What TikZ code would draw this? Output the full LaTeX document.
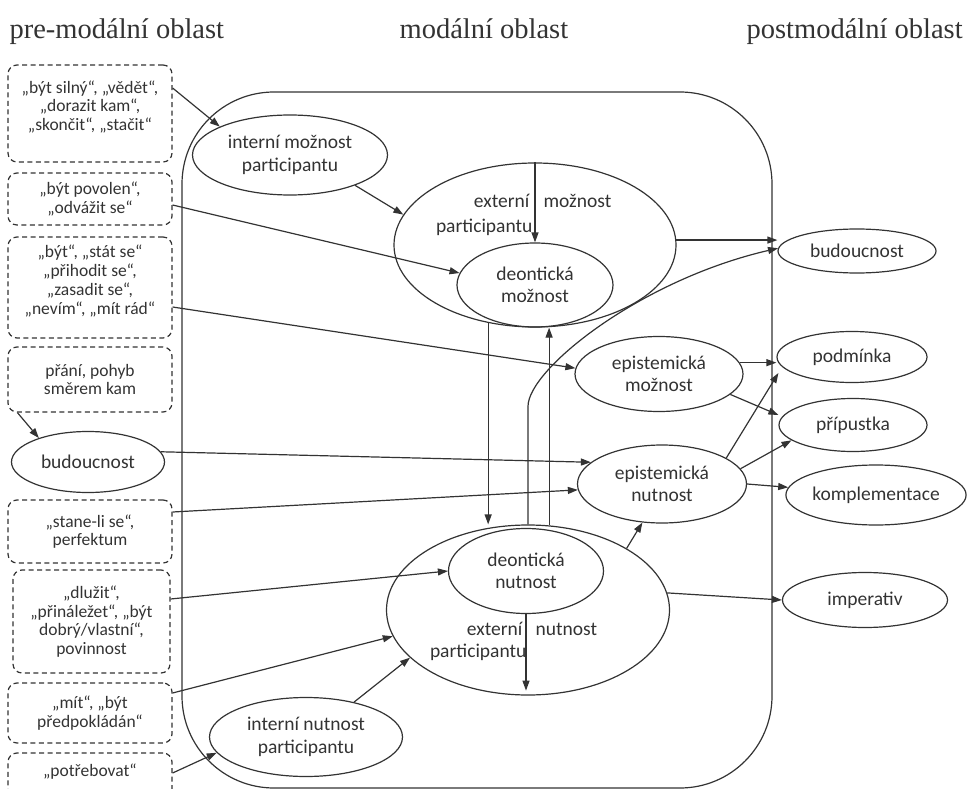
\documentclass[tikz,border=0pt]{standalone}
\usepackage{fontspec}
\setmainfont{Carlito}
\newfontfamily\headfont{Liberation Serif}
\usetikzlibrary{shapes.geometric,arrows.meta}
\newcommand\etxt{\fontsize{19.5}{22.5}\selectfont}
\newcommand\btxt{\fontsize{17.5}{18.8}\selectfont}
\begin{document}
\begin{tikzpicture}[x=1pt,y=-1pt,line width=1.2pt,color=black!80,
 ell/.style={draw,ellipse,inner sep=0pt,align=center,font=\etxt},
 dbox/.style={draw,dash pattern=on 5pt off 3.5pt,rounded corners=9pt,minimum width=164pt,inner sep=0pt,align=center,font=\btxt},
 txt/.style={inner sep=0pt,font=\etxt},
 btx/.style={inner sep=0pt,align=center,font=\btxt},
 head/.style={inner sep=0pt,anchor=base west,font=\headfont\fontsize{28.5}{30}\selectfont},
 arr/.style={-{Triangle[length=10pt,width=7pt]}}]
\useasboundingbox (0,0) rectangle (967,789);

% headers
\node[head] (h1) at (9,39) {pre-modální oblast};
\node[head] (h2) at (399,39) {modální oblast};
\node[head] (h3) at (746,39) {postmodální oblast};

% modal area
\node[draw,rounded corners=92pt,minimum width=590pt,minimum height=696pt,inner sep=0pt] (modal) at (477,440) {};

% ellipses
\node[ell,minimum width=195pt,minimum height=80pt] (intm) at (290,155) {interní možnost\\participantu};
\node[ell,minimum width=282pt,minimum height=164pt] (extm) at (535,245) {};
\node[ell,minimum width=156pt,minimum height=84pt] (deontm) at (535,285) {deontická\\možnost};
\node[txt,anchor=mid east] (extmA) at (530,205) {externí};
\node[txt,anchor=mid west] (extmB) at (543,205) {možnost};
\node[txt,anchor=mid east] (extmC) at (533,230) {participantu};
\node[ell,minimum width=168pt,minimum height=75pt] (epm) at (659,374) {epistemická\\možnost};
\node[ell,minimum width=169pt,minimum height=78pt] (epn) at (662,484) {epistemická\\nutnost};
\node[ell,minimum width=283pt,minimum height=170pt] (extn) at (528,610) {};
\node[ell,minimum width=155pt,minimum height=85pt] (deontn) at (526,571) {deontická\\nutnost};
\node[txt,anchor=mid east] (extnA) at (523,633) {externí};
\node[txt,anchor=mid west] (extnB) at (535,633) {nutnost};
\node[txt,anchor=mid east] (extnC) at (527,655) {participantu};
\node[ell,minimum width=193pt,minimum height=79pt] (intn) at (306,737) {interní nutnost\\participantu};
\node[ell,minimum width=153pt,minimum height=61pt] (budL) at (88,462) {budoucnost};

\node[ell,minimum width=158pt,minimum height=44pt] (budR) at (857,251) {budoucnost};
\node[ell,minimum width=150pt,minimum height=51pt] (podm) at (852,357) {podmínka};
\node[ell,minimum width=148pt,minimum height=53pt] (prip) at (853,425) {přípustka};
\node[ell,minimum width=178pt,minimum height=60pt] (kompl) at (876,495) {komplementace};
\node[ell,minimum width=165pt,minimum height=55pt] (imp) at (865,600) {imperativ};

% dashed boxes
\node[dbox,minimum height=97pt] (box1) at (90,113.5) {};
\node[btx] (box1t) at (90,107) {„být silný“, „vědět“,\\„dorazit kam“,\\„skončit“, „stačit“};
\node[dbox,minimum height=52pt] (box2) at (90,199) {„být povolen“,\\„odvážit se“};
\node[dbox,minimum height=101pt] (box3) at (90,287.5) {};
\node[btx] (box3t) at (90,281) {„být“, „stát se“\\„přihodit se“,\\„zasadit se“,\\„nevím“, „mít rád“};
\node[dbox,minimum height=65pt] (box4) at (90,379.5) {přání, pohyb\\směrem kam};
\node[dbox,minimum height=63pt] (box5) at (90,531.5) {„stane-li se“,\\perfektum};
\node[dbox,minimum height=103pt,minimum width=157pt] (box6) at (91.5,621.5) {„dlužit“,\\„přináležet“, „být\\dobrý/vlastní“,\\povinnost};
\node[dbox,minimum height=60pt] (box7) at (90,713) {„mít“, „být\\předpokládán“};
\node[dbox,minimum height=52pt] (box8) at (90,779) {};
\node[btx] (box8t) at (90,772) {„potřebovat“};

% connectors
\draw[arr] (box1.east |- 0,88) -- (intm.158);
\draw[arr] (intm.-25) -- (extm.167);
\draw[arr] (extm.north) -- (deontm.north);
\draw[arr] (box2.east |- 0,205) -- (deontm.171);
\draw[arr] (box3.east |- 0,307) -- (epm.176);
\draw[arr] ([xshift=10pt]box4.south west) -- (budL.154);
\draw[arr] (budL.8) -- (epn.163);
\draw[arr] (box5.east |- 0,512) -- (epn.184);
\draw[arr] (box6.east |- 0,599) -- (deontn.west);
\draw[arr] (box7.east |- 0,693) -- (extn.191);
\draw[arr] (box8.east |- 0,773) -- (intn.190);
\draw[arr] (intn.36) -- (extn.202);
\draw[arr] (extm.239) -- (extm.239 |- extn.north);
\draw[arr] (extn.76) -- (extn.76 |- extm.south);
\draw[arr,shorten >=5pt] (deontn.south) -- (deontn.south |- extn.south);
\draw[arr] (extn.north) -- ++(0,-118) .. controls ++(0,-37) and (640,280) .. (budR.178);
\draw[arr] (extn.32) -- (epn.243);
\draw[arr] (extn.7) -- (imp.west);
\draw[arr] (extm.2) -- (extm.2 -| budR.west);
\draw[arr] (epm.8) -- (epm.8 -| podm.west);
\draw[arr] (epm.-16) -- ([yshift=10pt]prip.west);
\draw[arr] (epn.22) -- ([xshift=2pt,yshift=-16pt]podm.west);
\draw[arr] (epn.11) -- (prip.194);
\draw[arr] (epn.east) -- (kompl.175);
\end{tikzpicture}
\end{document}
